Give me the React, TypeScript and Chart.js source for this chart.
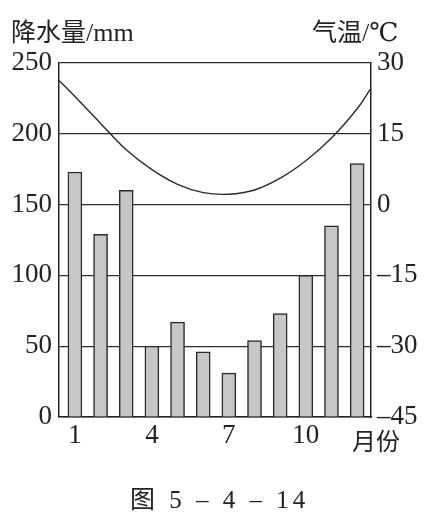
import React, { useEffect, useRef } from "react";
import { Chart, registerables } from "chart.js";

Chart.register(...registerables);

// ---- data ----
const months = [1, 2, 3, 4, 5, 6, 7, 8, 9, 10, 11, 12];
const precipitation = [173, 129, 160, 50, 67, 46, 31, 54, 73, 100, 135, 179];
// temperature curve samples (month position -> °C), including the two plot edges
const tempMonths = [0.38, 1, 2, 3, 4, 5, 6, 7, 8, 9, 10, 11, 12, 12.54];
const temperature = [26.3, 22.9, 17.2, 11.6, 7.4, 4.3, 2.55, 2.2, 3.1, 5.6, 9.3, 14.1, 20.3, 24.7];
const monthTicks = [1, 4, 7, 10];
const precipTicks = [0, 50, 100, 150, 200, 250];
const tempTicks = [-45, -30, -15, 0, 15, 30];

const leftTitle = "降水量";
const leftUnit = "/mm";
const rightTitle = "气温";
const rightUnit = "/℃";
const xUnit = "月份";
const caption = "图 5 – 4 – 14";

const SERIF = '"Liberation Serif", "DejaVu Serif", serif';
const CJK = '"Noto Sans CJK SC", sans-serif';
const INK = "#232323";

export default function App() {
  const canvasRef = useRef<HTMLCanvasElement | null>(null);

  useEffect(() => {
    const canvas = canvasRef.current;
    if (!canvas) return;
    const tickFont = { family: SERIF, size: 27 };
    const chart = new Chart(canvas, {
      type: "bar",
      data: {
        datasets: [
          {
            type: "line",
            data: tempMonths.map((m, i) => ({ x: m, y: temperature[i] })),
            xAxisID: "x",
            yAxisID: "y2",
            borderColor: "#2b2b2b",
            borderWidth: 1.4,
            pointRadius: 0,
            tension: 0.4,
            fill: false,
            order: 0,
          } as any,
          {
            type: "bar",
            data: months.map((m, i) => ({ x: m, y: precipitation[i] })),
            xAxisID: "x",
            yAxisID: "y",
            backgroundColor: "#c7c7c7",
            borderColor: "#2a2a2a",
            borderWidth: 1.5,
            barThickness: 14,
            order: 1,
          } as any,
        ],
      },
      options: {
        responsive: false,
        animation: false,
        layout: { padding: { top: 63, bottom: 65, left: 0, right: 0 } },
        plugins: { legend: { display: false }, tooltip: { enabled: false } },
        scales: {
          x: {
            type: "linear",
            offset: false,
            min: 0.38,
            max: 12.54,
            grid: { display: false, drawTicks: false, offset: false },
            border: { display: true, color: INK, width: 1.5 },
            afterBuildTicks: (scale: any) => {
              scale.ticks = monthTicks.map((v) => ({ value: v }));
            },
            afterFit: (scale: any) => {
              scale.height = 40;
            },
            ticks: {
              autoSkip: false,
              maxRotation: 0,
              padding: 3,
              color: INK,
              font: tickFont,
              callback: (v: any) => String(v),
            },
          },
          y: {
            type: "linear",
            position: "left",
            min: 0,
            max: 250,
            afterBuildTicks: (scale: any) => {
              scale.ticks = precipTicks.map((v) => ({ value: v }));
            },
            afterFit: (scale: any) => {
              scale.width = 59;
            },
            grid: { color: "#2e2e2e", lineWidth: 1.2, drawTicks: false },
            border: { display: true, color: INK, width: 1.5 },
            ticks: { padding: 7, color: INK, font: tickFont },
          },
          y2: {
            type: "linear",
            position: "right",
            min: -45,
            max: 30,
            afterBuildTicks: (scale: any) => {
              scale.ticks = tempTicks.map((v) => ({ value: v }));
            },
            afterFit: (scale: any) => {
              scale.width = 56;
            },
            grid: { drawOnChartArea: false, drawTicks: false },
            border: { display: true, color: INK, width: 1.5 },
            ticks: {
              padding: 6,
              color: INK,
              font: tickFont,
              callback: (v: any) => String(v).replace("-", "–"),
            },
          },
        },
      },
    } as any);
    return () => chart.destroy();
  }, []);

  const label = (style: React.CSSProperties): React.CSSProperties => ({
    position: "absolute",
    lineHeight: 1,
    whiteSpace: "pre",
    color: INK,
    ...style,
  });

  return (
    <div
      style={{
        position: "absolute",
        left: 0,
        top: 0,
        width: 427,
        height: 522,
        background: "#ffffff",
        overflow: "hidden",
      }}
    >
      <canvas
        ref={canvasRef}
        width={427}
        height={522}
        style={{ position: "absolute", left: 0, top: 0, width: 427, height: 522 }}
      />
      <div style={label({ left: 11, top: 18, fontSize: 25 })}>
        <span style={{ fontFamily: CJK }}>{leftTitle}</span>
        <span style={{ fontFamily: SERIF, fontSize: 26 }}>{leftUnit}</span>
      </div>
      <div style={label({ left: 312, top: 18, fontSize: 25 })}>
        <span style={{ fontFamily: CJK }}>{rightTitle}</span>
        <span style={{ fontFamily: SERIF, fontSize: 26 }}>{rightUnit}</span>
      </div>
      <div style={label({ left: 352, top: 428, fontSize: 24, fontFamily: CJK })}>{xUnit}</div>
      <div
        style={label({
          left: 130,
          top: 487,
          fontSize: 25,
          fontFamily: `${SERIF}, ${CJK}`,
          letterSpacing: 4,
        })}
      >
        {caption}
      </div>
    </div>
  );
}
